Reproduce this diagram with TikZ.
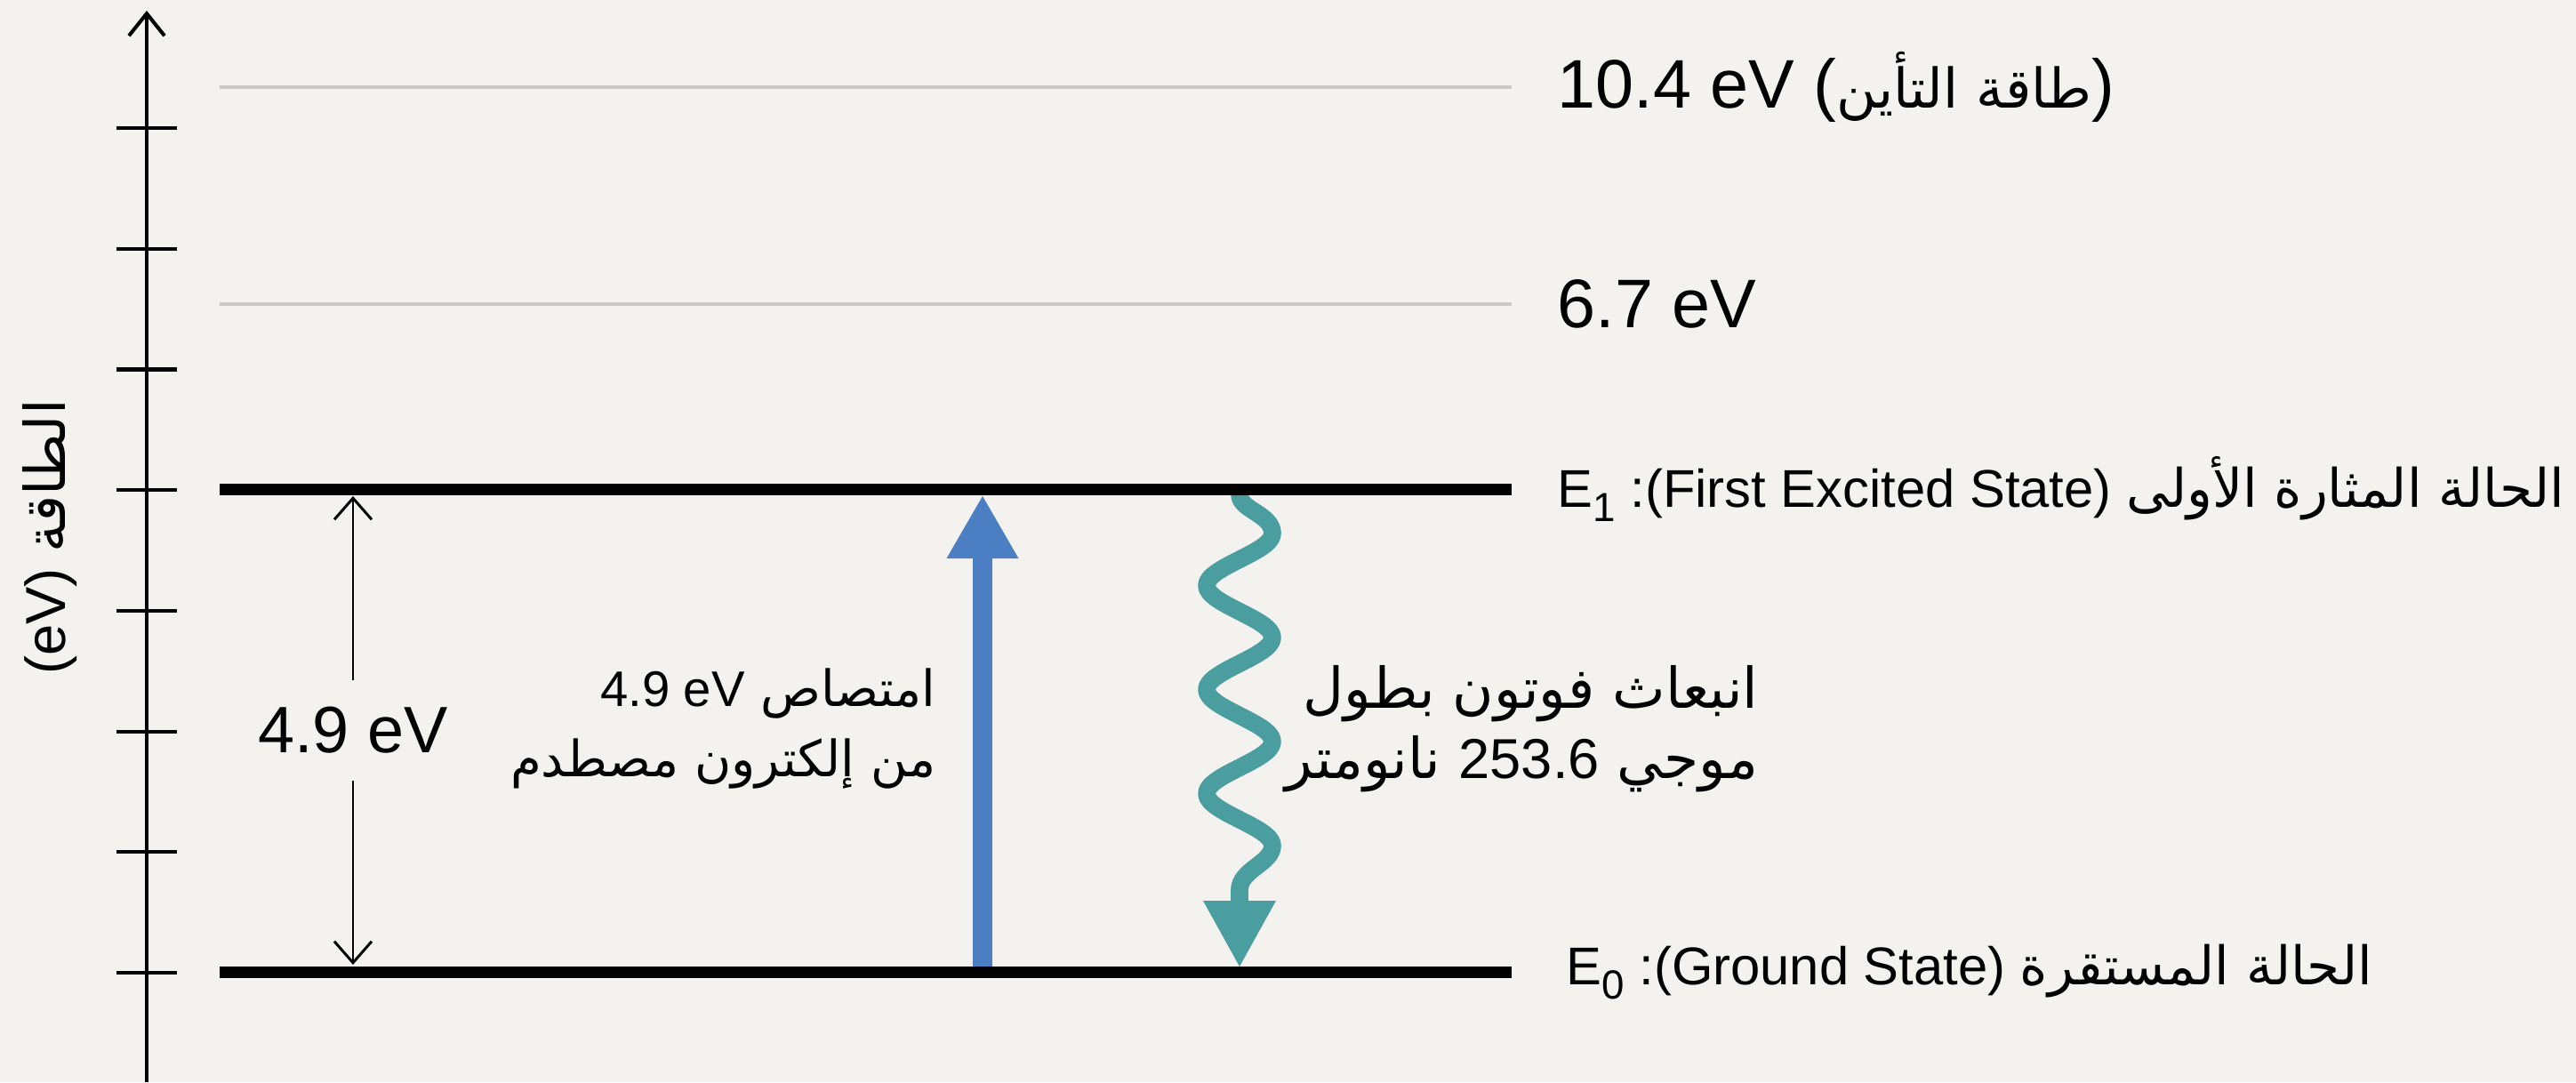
\documentclass[tikz,border=0pt]{standalone}
\usepackage{fontspec}
\setmainfont{Liberation Sans}
\newfontfamily\arabicfont[Script=Arabic]{DejaVu Sans}
\TeXXeTstate=1
\usetikzlibrary{positioning,arrows.meta}
\definecolor{bgpaper}{RGB}{243,242,238}
\definecolor{levelgray}{RGB}{200,200,200}
\definecolor{absblue}{RGB}{76,126,196}
\definecolor{emitteal}{RGB}{74,158,160}
\newcommand{\lowsub}[1]{\raisebox{-0.5ex}{\fontsize{13}{13}\selectfont #1}}

\begin{document}
\begin{tikzpicture}[
    level/.style={
        line width=3.7pt,
        black
    },
    faint/.style={
        line width=1.4pt,
        levelgray
    },
    axisline/.style={
        line width=1.15pt,
        -{Straight Barb[length=2.5mm,width=4mm]}
    },
    axistick/.style={
        line width=1.15pt
    },
    dimarr/.style={
        line width=0.85pt,
        {Straight Barb[length=2.4mm,width=4.2mm]}-{Straight Barb[length=2.4mm,width=4.2mm]}
    },
    dimlbl/.style={
        fill=bgpaper,
        font=\fontsize{21}{25}\selectfont,
        inner xsep=2pt,
        inner ysep=3mm
    },
    lvllbl/.style={
        inner sep=0pt,
        font=\fontsize{17}{20}\selectfont
    },
    bigval/.style={
        inner sep=0pt,
        font=\fontsize{22}{26}\selectfont
    },
    axislbl/.style={
        rotate=90,
        inner sep=0pt,
        font=\fontsize{18}{22}\selectfont
    },
    note/.style={
        align=right,
        inner sep=0pt,
        font=\fontsize{18}{22.4}\selectfont
    },
    absarr/.style={
        absblue,
        line width=6.3pt,
        -{Triangle[length=7mm,width=8.1mm,line width=0pt]}
    },
    emitarr/.style={
        emitteal,
        line width=5.6pt,
        line join=round,
        -{Triangle[length=7.4mm,width=8.2mm,line width=0pt]}
    }
]

% ============================================================
% PAPER
% ============================================================

\useasboundingbox (0,0) rectangle (28.97,12.17);
\fill[bgpaper] (0,0) rectangle (28.97,12.17);

% ============================================================
% ENERGY AXIS
% ============================================================

\coordinate (axbot) at (1.65,0);
\coordinate (axtop) at (1.65,12.05);
\draw[axisline] (axbot) -- (axtop);
\foreach \i in {0,...,7}
    \draw[axistick] (1.31,1.23+1.357*\i) -- (1.99,1.23+1.357*\i);

\node[axislbl] (elbl) at (0.56,6.13)
{(eV) {\arabicfont\beginR الطاقة\endR}};

% ============================================================
% TRANSITIONS
% ============================================================

\coordinate (absbot) at (11.05,1.24);
\coordinate (abstop) at (11.05,6.59);
\draw[absarr] (absbot) -- (abstop);

% wave runs down the scope's x axis, swings along its y axis
\coordinate (emittop) at (13.94,6.61);
\coordinate (emitbot) at (13.94,1.30);
\begin{scope}[shift={(emittop)}, rotate=-90]
\draw[emitarr] (emittop)
    .. controls (0.18,0) and (0.22,0.37) .. (0.44,0.37)
    .. controls (0.65,0.37) and (0.815,-0.37) .. (1.025,-0.37)
    .. controls (1.235,-0.37) and (1.40,0.37) .. (1.61,0.37)
    .. controls (1.82,0.37) and (1.985,-0.37) .. (2.195,-0.37)
    .. controls (2.405,-0.37) and (2.57,0.37) .. (2.78,0.37)
    .. controls (2.99,0.37) and (3.155,-0.37) .. (3.365,-0.37)
    .. controls (3.575,-0.37) and (3.74,0.37) .. (3.95,0.37)
    .. controls (4.15,0.37) and (4.22,0) .. (4.45,0)
    -- (emitbot);
\end{scope}

\coordinate (dimtop) at (3.97,6.59);
\coordinate (dimbot) at (3.97,1.32);
\draw[dimarr] (dimtop) -- node[dimlbl] (gap) {4.9 eV} (dimbot);

% ============================================================
% LEVELS
% ============================================================

\coordinate (ionl) at (2.47,11.19);
\coordinate (ionr) at (17.0,11.19);
\coordinate (e2l) at (2.47,8.75);
\coordinate (e2r) at (17.0,8.75);
\coordinate (e1l) at (2.47,6.67);
\coordinate (e1r) at (17.0,6.67);
\coordinate (e0l) at (2.47,1.24);
\coordinate (e0r) at (17.0,1.24);

\draw[faint] (ionl) -- (ionr);
\draw[faint] (e2l) -- (e2r);
\draw[level] (e1l) -- (e1r);
\draw[level] (e0l) -- (e0r);

\node[bigval, right=0.51cm of ionr] (ionlbl)
{10.4 eV ({\arabicfont\fontsize{17.5}{22}\selectfont\beginR طاقة التأين\endR})};
\node[bigval, right=0.51cm of e2r] (e2lbl) {6.7 eV};
\node[lvllbl, right=0.51cm of e1r] (e1lbl)
{E\lowsub{1} :(First Excited State) {\arabicfont\beginR الحالة المثارة الأولى\endR}};
\node[lvllbl, right=0.61cm of e0r] (e0lbl)
{E\lowsub{0} :(Ground State) {\arabicfont\beginR الحالة المستقرة\endR}};

% ============================================================
% NOTES
% ============================================================

\node[note, anchor=east, font=\fontsize{16}{22.4}\selectfont] (absnote) at (10.53,3.975)
{{\arabicfont\beginR امتصاص \beginL{\rmfamily 4.9 eV}\endL\endR}\\
{\arabicfont\beginR من إلكترون مصطدم\endR}};

\node[note, anchor=east] (emitnote) at (19.78,3.975)
{{\arabicfont\beginR انبعاث فوتون بطول\endR}\\
{\arabicfont\beginR موجي \beginL{\rmfamily 253.6}\endL{} نانومتر\endR}};

\end{tikzpicture}
\end{document}
